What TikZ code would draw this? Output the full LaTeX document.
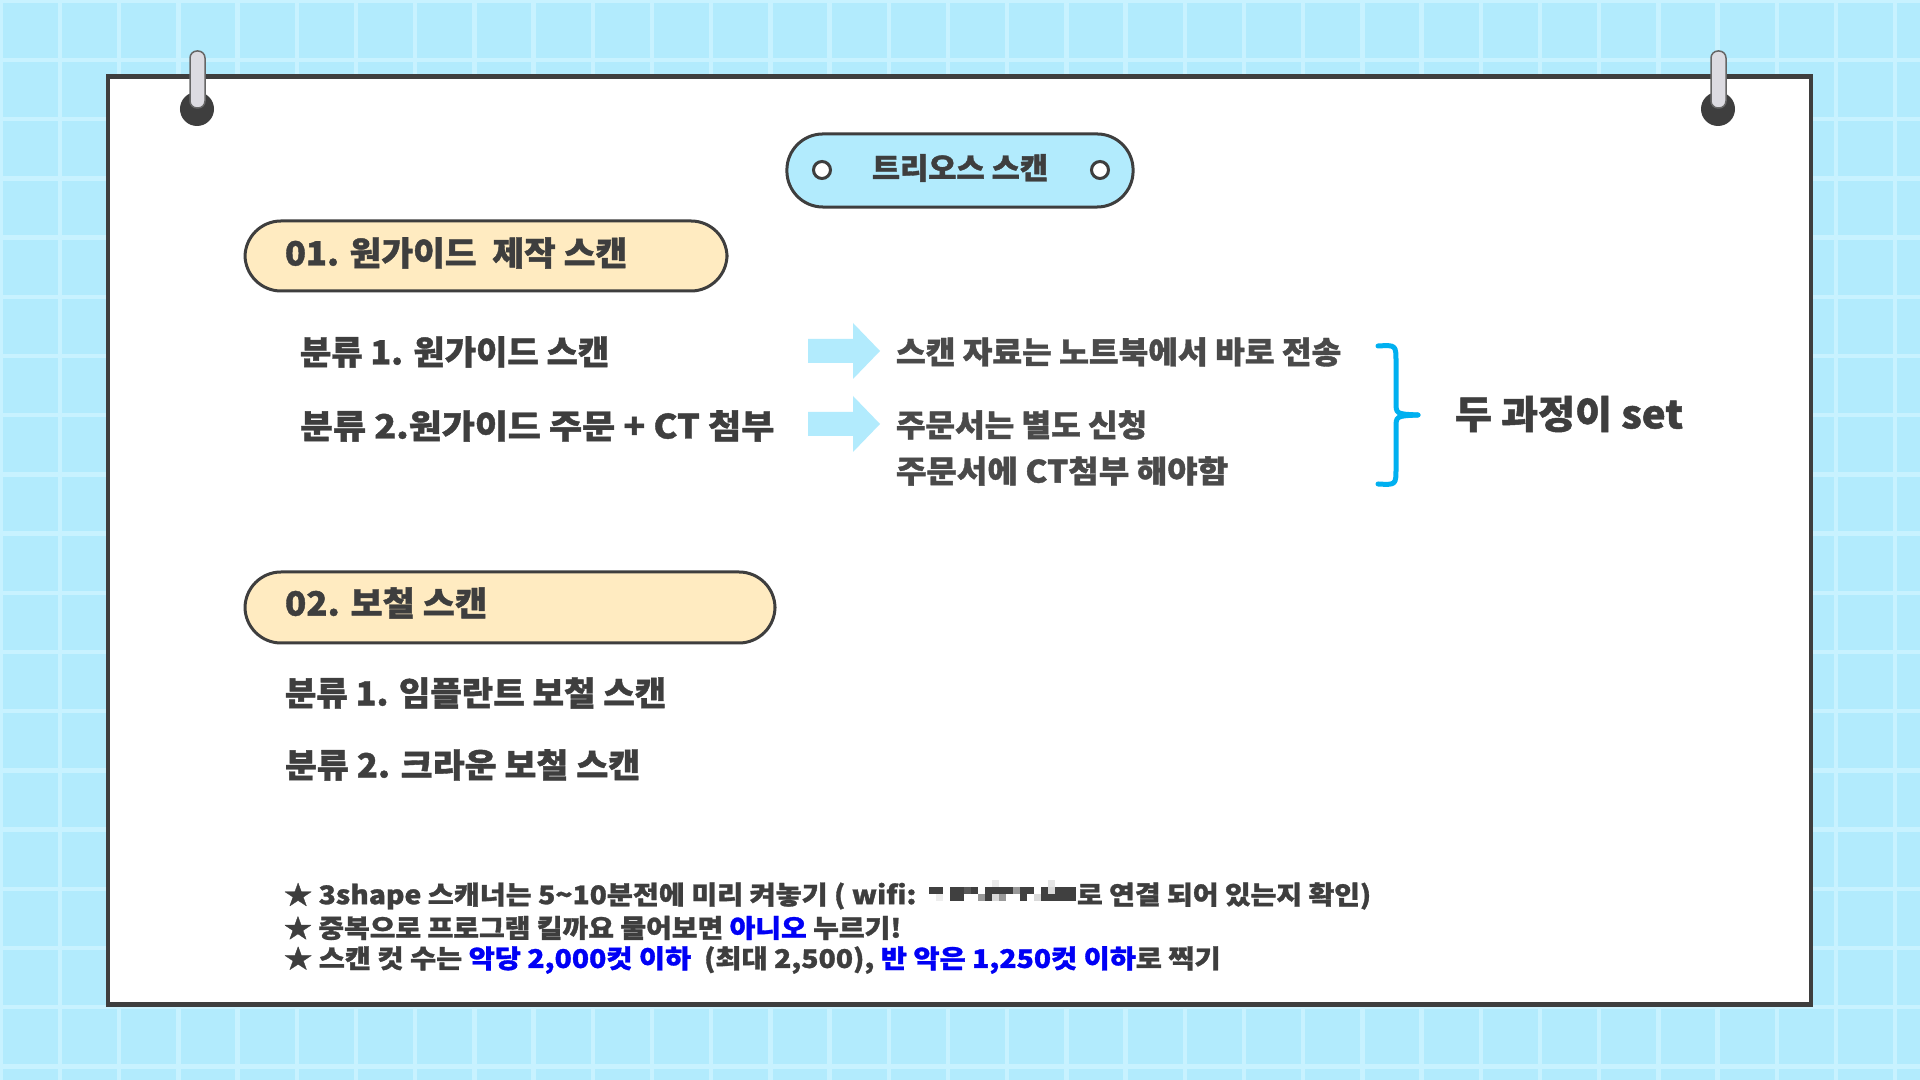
\documentclass[tikz,border=0pt]{standalone}
\usepackage{fontspec}
\setmainfont{Noto Sans CJK KR}[BoldFeatures={FakeBold=1.2}]
\usepackage{graphicx}
\usetikzlibrary{calc}
\definecolor{bgc}{HTML}{B2EBFD}
\definecolor{gridc}{HTML}{C8F2FF}
\definecolor{dark}{HTML}{3E3E3E}
\definecolor{txtgray}{HTML}{4A4A4A}
\definecolor{cream}{HTML}{FFEBC1}
\definecolor{pinc}{HTML}{DCDBE1}
\definecolor{bracec}{HTML}{00B0F0}
\definecolor{arrowc}{HTML}{B2EBFD}
\definecolor{bluetxt}{HTML}{0000F5}
\newcommand{\fitw}[3]{{\fontsize{#1}{#1}\selectfont\bfseries\resizebox{#2}{\height}{#3}}}
\newcommand{\bl}[1]{\textcolor{bluetxt}{#1}}
\begin{document}
\begin{tikzpicture}[x=0.01cm, y=-0.01cm,
  every node/.style={inner sep=0pt, outer sep=0pt},
  gridline/.style={draw=gridc, line width=0.045cm},
  panel/.style={draw=dark, fill=white, line width=0.045cm},
  pinball/.style={fill=dark},
  pinbar/.style={draw=gray!80!black, fill=pinc, line width=0.015cm, rounded corners=0.07cm},
  titlepill/.style={draw=dark, fill=bgc, line width=0.03cm, rounded corners=0.36cm, minimum width=3.46cm, minimum height=0.73cm},
  secpill/.style={draw=dark, fill=cream, line width=0.03cm, rounded corners=0.36cm},
  hole/.style={draw=dark, fill=white, line width=0.03cm},
  head/.style={text=dark, anchor=west},
  item/.style={text=dark, anchor=west},
  sub/.style={text=txtgray, anchor=west},
  note/.style={text=dark, anchor=west},
  bigarrow/.style={fill=arrowc},
  bracepath/.style={draw=bracec, line width=0.05cm, line cap=round, line join=round}
]
\useasboundingbox (0,0) rectangle (1920,1080);
% background grid
\fill[bgc] (0,0) rectangle (1920,1080);
\foreach \i in {0,...,32} \draw[gridline] ({0.8+59.2*\i},0) -- ({0.8+59.2*\i},1080);
\foreach \j in {0,...,18} \draw[gridline] (0,{0.8+59.2*\j}) -- (1920,{0.8+59.2*\j});
% panel
\draw[panel] (108,76.5) rectangle (1811,1004.5);
% pins
\fill[pinball] (197,109) circle (0.17cm);
\fill[pinball] (1718,109) circle (0.17cm);
\draw[pinbar] (190,51) rectangle (205,108);
\draw[pinbar] (1711,51) rectangle (1726,108);
% title
\node[titlepill] (titlebox) at (960,170.5) {};
\draw[hole] (822,170) circle (0.085cm);
\draw[hole] (1100,170) circle (0.085cm);
\node[text=dark] (title) at (960,168) {\fitw{8.4pt}{17.6mm}{트리오스 스캔}};
% section 1
\draw[secpill] (245,221) rectangle (727,291);
\node[head] (h1) at (285,253) {\fitw{9.5pt}{34.2mm}{01. 원가이드\ \ 제작 스캔}};
\node[item] (i11) at (300,352) {\fitw{9.5pt}{30.9mm}{분류 1. 원가이드 스캔}};
\node[item] (i12) at (300,426) {\fitw{9.5pt}{47.4mm}{분류 2.원가이드 주문 + CT 첨부}};
% arrows
\fill[bigarrow] (808,339) -- (853,339) -- (853,323) -- (880,351) -- (853,379) -- (853,363) -- (808,363) -- cycle;
\fill[bigarrow] (808,412) -- (853,412) -- (853,396) -- (880,424) -- (853,452) -- (853,436) -- (808,436) -- cycle;
\node[sub] (s1) at (896,352) {\fitw{8.8pt}{44.5mm}{스캔 자료는 노트북에서 바로 전송}};
\node[sub] (s2) at (896,425) {\fitw{8.8pt}{25.1mm}{주문서는 별도 신청}};
\node[sub] (s3) at (896,471) {\fitw{8.8pt}{33.2mm}{주문서에 CT첨부 해야함}};
% brace
\draw[bracepath] (1378,346) .. controls (1396,345) .. (1396,362) -- (1396,402) .. controls (1396,414) .. (1418,415);
\draw[bracepath] (1418,415) .. controls (1396,416) .. (1396,428) -- (1396,468) .. controls (1396,485) .. (1378,484);
\node[item] (set) at (1455,414) {\fitw{11pt}{22.8mm}{두 과정이 set}};
% section 2
\draw[secpill] (245,572) rectangle (775,643);
\node[head] (h2) at (285,603) {\fitw{9.5pt}{20.2mm}{02. 보철 스캔}};
\node[item] (i21) at (285,693) {\fitw{9.5pt}{38.1mm}{분류 1. 임플란트 보철 스캔}};
\node[item] (i22) at (285,765) {\fitw{9.5pt}{35.5mm}{분류 2. 크라운 보철 스캔}};
% notes
\node[note] (n1a) at (284,896) {\fitw{7.3pt}{63.2mm}{★ 3shape 스캐너는 5\textasciitilde10분전에 미리 켜놓기 ( wifi:}};
\foreach \d [count=\k from 0] in {75,75,0,75,75,65,75,0,75,75,75,75,40,75,75,0,75,15,75,75,75}
  \fill[black!\d!white] ({929+7*\k},887) rectangle ++(7.2,7);
\foreach \d [count=\k from 0] in {0,7,0,75,75,0,0,40,75,15,40,0,0,75,0,15,75,75,75,75,75}
  \fill[black!\d!white] ({929+7*\k},894) rectangle ++(7.2,7.5);
\fill[black!8] (992,880) rectangle ++(7,7);
\fill[black!10] (1048,880) rectangle ++(7,7);
\node[note] (n1b) at (1077,896) {\fitw{7.3pt}{29.4mm}{로 연결 되어 있는지 확인)}};
\node[note] (n2) at (284,928) {\fitw{7.3pt}{61.7mm}{★ 중복으로 프로그램 킬까요 물어보면 \bl{아니오} 누르기!}};
\node[note] (n3) at (284,960) {\fitw{7.3pt}{93.6mm}{★ 스캔 컷 수는 \bl{악당 2,000컷 이하}\ \ (최대 2,500), \bl{반 악은 1,250컷 이하}로 찍기}};
\end{tikzpicture}
\end{document}
